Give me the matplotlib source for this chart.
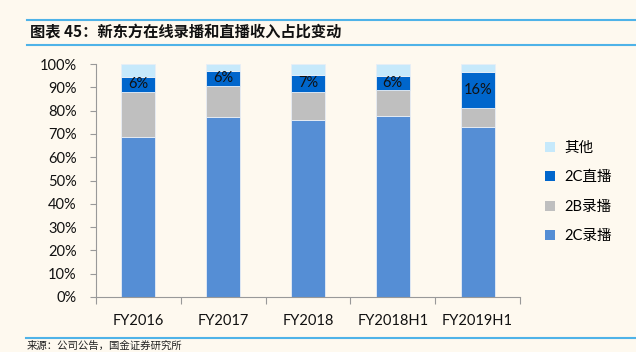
import matplotlib
matplotlib.use("Agg")
import matplotlib.pyplot as plt
from matplotlib.patches import Patch
from matplotlib.lines import Line2D
import numpy as np

categories = ["FY2016", "FY2017", "FY2018", "FY2018H1", "FY2019H1"]
c_recorded = [68.8, 77.4, 76.0, 77.7, 73.0]   # 2C录播
b_recorded = [19.3, 13.3, 12.1, 11.0, 8.0]    # 2B录播
c_live = [6.3, 6.4, 7.2, 6.1, 15.4]           # 2C直播
other = [5.6, 2.9, 4.7, 5.2, 3.6]             # 其他
live_labels = ["6%", "6%", "7%", "6%", "16%"]
series_names = ["2C录播", "2B录播", "2C直播", "其他"]
yticks = [0, 10, 20, 30, 40, 50, 60, 70, 80, 90, 100]

colors = ["#558ED5", "#BFBFBF", "#0066CC", "#C6E9FB"]
bg = "#FEF9EF"
plt.rcParams['font.family'] = ['Lato', 'Noto Sans CJK SC', 'DejaVu Sans']

fig = plt.figure(figsize=(6.36, 3.52), dpi=100, facecolor=bg)
ax = fig.add_axes([96/636, 1-297/352, (520-96)/636, (297-64)/352])
ax.set_facecolor(bg)

x = np.arange(len(categories))
data = [c_recorded, b_recorded, c_live, other]
bottom = np.zeros(len(categories))
for vals, col, name in zip(data, colors, series_names):
    ax.bar(x, vals, width=0.4, bottom=bottom, color=col, edgecolor="#E8EEF6",
           linewidth=0.6, label=name)
    bottom += np.array(vals)

live_bottom = np.array(c_recorded) + np.array(b_recorded)
for xi, b, v, lab in zip(x, live_bottom, c_live, live_labels):
    ax.text(xi, b + v/2, lab, ha="center", va="center", fontsize=10.5, color="#111111")

ax.set_xlim(-0.5, len(categories)-0.5)
ax.set_ylim(0, 100)
ax.set_yticks(yticks)
ax.set_yticklabels([f"{t}%" for t in yticks], fontsize=10.5, color="#111111")
ax.set_xticks(x)
ax.set_xticklabels(categories, fontsize=10.5, color="#111111")
ax.set_xticks(np.arange(len(categories)+1)-0.5, minor=True)
ax.tick_params(axis="x", which="major", length=0, pad=12)
ax.tick_params(axis="x", which="minor", length=5, color="#999999", width=0.8)
ax.tick_params(axis="y", length=4, color="#999999", width=0.8, pad=10)
for s in ["top", "right"]:
    ax.spines[s].set_visible(False)
for s in ["left", "bottom"]:
    ax.spines[s].set_color("#999999")
    ax.spines[s].set_linewidth(0.8)

handles = [Patch(facecolor=c, edgecolor="none") for c in colors]
leg = fig.legend(handles[::-1], series_names[::-1], loc="upper left",
                 bbox_to_anchor=(532/636, 1-128/352), frameon=False,
                 fontsize=10.5, handlelength=0.7, handleheight=0.7,
                 handletextpad=0.6, labelspacing=1.05)

# title band
fig.add_artist(Line2D([27/636, 1], [1-20/352, 1-20/352], color="#4FB3E8", lw=1.5))
fig.add_artist(Line2D([27/636, 1], [1-45/352, 1-45/352], color="#4FB3E8", lw=1.5))
fig.text(30/636, 1-32.5/352, "图表 45：新东方在线录播和直播收入占比变动", fontsize=11,
         fontweight="bold", style="italic", va="center", ha="left", color="#111111",
         family=['Noto Sans CJK SC', 'DejaVu Sans'])
fig.add_artist(Line2D([26/636, 1], [1-338/352, 1-338/352], color="#4FB3E8", lw=1.5))
fig.text(27/636, 1-340.5/352, "来源：公司公告，国金证券研究所", fontsize=7.5, va="top", ha="left",
         color="#222222", family=['Noto Sans CJK SC', 'DejaVu Sans'])

fig.savefig("out.png", dpi=100, facecolor=bg)
